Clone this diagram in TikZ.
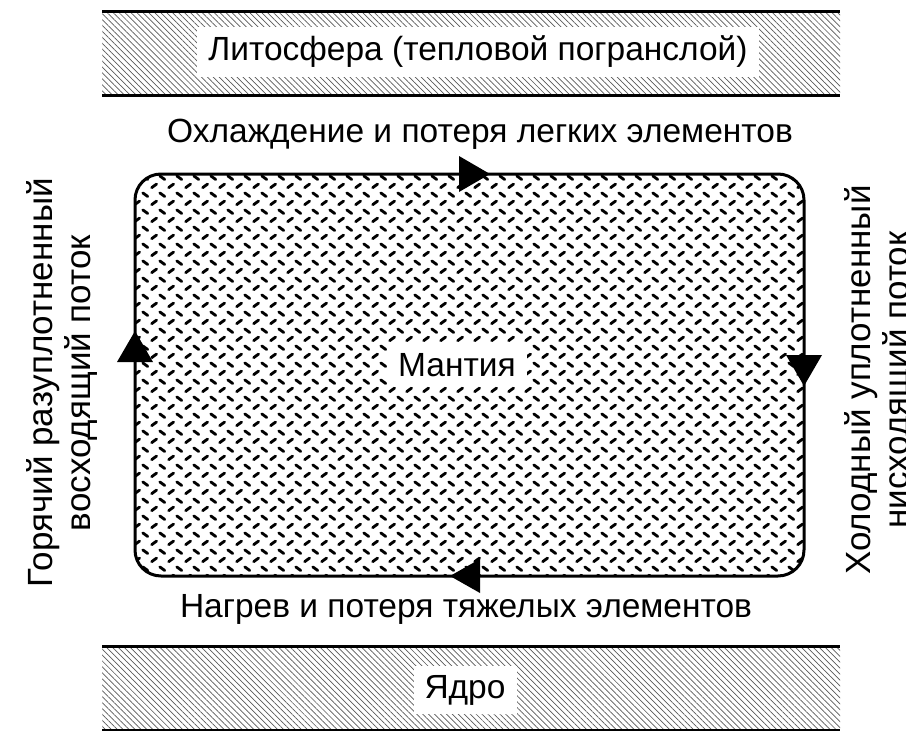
\documentclass[tikz,border=0pt]{standalone}
\usepackage{fontspec}
\setmainfont{Liberation Sans}
\usetikzlibrary{patterns,patterns.meta}

% diamond-plate texture for the mantle
\pgfdeclarepatternformonly{plate}{\pgfpoint{0pt}{0pt}}{\pgfpoint{16.7pt}{16.7pt}}{\pgfpoint{16.7pt}{16.7pt}}{
  \pgfsetlinewidth{2.9pt}\pgfsetroundcap
  \pgfpathmoveto{\pgfpoint{1.7pt}{2.4pt}}\pgfpathlineto{\pgfpoint{6.7pt}{6.0pt}}
  \pgfpathmoveto{\pgfpoint{10.0pt}{14.3pt}}\pgfpathlineto{\pgfpoint{15.0pt}{10.7pt}}
  \pgfusepath{stroke}
}

\tikzset{
  lbl/.style={font=\fontsize{33.5}{37}\selectfont, inner sep=0pt},
  sidelbl/.style={font=\fontsize{35}{38}\selectfont, inner sep=0pt, rotate=90, align=center},
  boxlbl/.style={lbl, fill=white, inner xsep=11pt, inner ysep=9pt},
  band/.style={pattern={Lines[angle=-45,distance=4.2pt,line width=0.7pt]}, pattern color=black!65},
  edge/.style={line width=3pt},
  flow/.style={fill=black},
}

\begin{document}
\begin{tikzpicture}[x=1pt,y=-1pt]
\useasboundingbox (0,0) rectangle (906,731);

% lithosphere band
\fill[band] (102,11) rectangle (840,95);
\draw[edge] (102,11) -- (840,11);
\draw[edge] (102,95) -- (840,95);
\node[boxlbl] (lith) at (478,52) {Литосфера (тепловой погранслой)};

% core band
\fill[band] (102,646) rectangle (840,730);
\draw[edge] (102,646) -- (840,646);
\draw[edge] (102,730) -- (840,730);
\node[boxlbl] (core) at (465,690) {Ядро};

% mantle convection cell
\draw[edge, rounded corners=26pt, pattern=plate] (135,174) rectangle (804,576);
\node[boxlbl] (mantle) at (457,365) {Мантия};

% flow direction arrowheads
\fill[flow] (490,174) -- (459,156) -- (459,192) -- cycle;
\fill[flow] (804,386) -- (786,355) -- (822,355) -- cycle;
\fill[flow] (450,576) -- (480,559) -- (480,593) -- cycle;
\fill[flow] (135,331) -- (117,362) -- (153,362) -- cycle;

% captions
\node[lbl] (cool) at (480,134) {Охлаждение и потеря легких элементов};
\node[lbl] (heat) at (466,609) {Нагрев и потеря тяжелых элементов};
\node[sidelbl] (up) at (62,383) {Горячий разуплотненный\\восходящий поток};
\node[sidelbl] (down) at (880,380) {Холодный уплотненный\\нисходящий поток};
\end{tikzpicture}
\end{document}
